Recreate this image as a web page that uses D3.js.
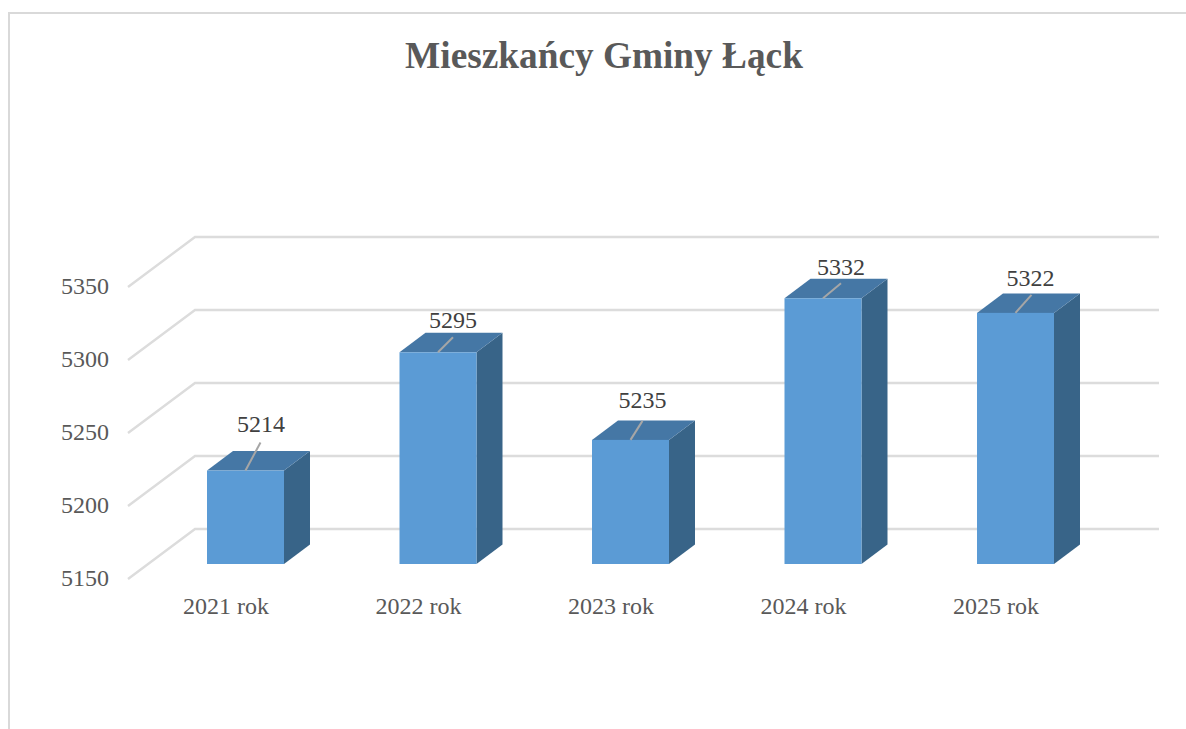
<!DOCTYPE html>
<html>
<head>
<meta charset="utf-8">
<script src="https://cdn.jsdelivr.net/npm/d3@7"></script>
<style>
  html, body { margin: 0; padding: 0; background: #fff; overflow: hidden; }
  text { font-family: "Liberation Serif", serif; }
</style>
</head>
<body>
<div id="chart"></div>
<script>
const years = ["2021 rok", "2022 rok", "2023 rok", "2024 rok", "2025 rok"];
const residents = [5214, 5295, 5235, 5332, 5322];
const yTicks = [5150, 5200, 5250, 5300, 5350];

const width = 1186, height = 729;
// depth of the fake 3d: wall vs. front plane, and the bars themselves
const wallDx = 67, wallDy = 50;
const barDx = 26, barDy = 19.5;

// labels were dragged by hand in the original, so each leader line is different
const leaderDx = [15, 15, 12, 18, 16];
const leaderDy = [28, 15, 19, 15, 18];
const labelDx = [15.5, 15, 12, 18, 15];
const labelGap = [11, 9, 13, 8, 9];

const svg = d3.select("#chart").append("svg")
  .attr("width", width)
  .attr("height", height)
  .style("display", "block");

// chart frame
svg.append("path")
  .attr("d", "M9,729V13H1186")
  .attr("fill", "none")
  .attr("stroke", "#d9d9d9")
  .attr("stroke-width", 2);

svg.append("text")
  .attr("x", 604)
  .attr("y", 68)
  .attr("text-anchor", "middle")
  .attr("font-size", 37.3)
  .attr("font-weight", "bold")
  .attr("fill", "#595959")
  .text("Mieszkańcy Gminy Łąck");

const x = d3.scaleBand()
  .domain(years)
  .range([149.25, 1111.75])
  .paddingInner(0.6)
  .paddingOuter(0.3);

// front plane of the bars
const y = d3.scaleLinear().domain([5150, 5350]).range([564, 272]);
// back wall
const yWall = d3.scaleLinear().domain([5150, 5350]).range([529, 237]);

const wallX = 195;

// gridlines, floor/side edge then along the back wall
svg.append("g").selectAll("path")
  .data(yTicks)
  .enter()
  .append("path")
  .attr("d", d => `M${wallX - wallDx},${yWall(d) + wallDy}L${wallX},${yWall(d)}H1159`)
  .attr("fill", "none")
  .attr("stroke", "#dcdcdc")
  .attr("stroke-width", 2.4);

// y axis labels only, the lines are above
const yAxis = d3.axisLeft(d3.scaleLinear().domain([5150, 5350]).range([578, 286]))
  .tickValues(yTicks)
  .tickSize(0)
  .tickPadding(0)
  .tickFormat(d3.format("d"));

const yG = svg.append("g")
  .attr("transform", "translate(109,0)")
  .call(yAxis);
yG.select(".domain").remove();
yG.selectAll("text")
  .attr("font-size", 24)
  .attr("font-family", "Liberation Serif")
  .attr("fill", "#595959");

// x axis labels sit left of the bars because they belong to the front edge
const xAxis = d3.axisBottom(d3.scaleBand().domain(years).range([149.25 - 19.5, 1111.75 - 19.5]).paddingInner(0.6).paddingOuter(0.3))
  .tickSize(0)
  .tickPadding(0);

const xG = svg.append("g")
  .attr("transform", "translate(0,597)")
  .call(xAxis);
xG.select(".domain").remove();
xG.selectAll("text")
  .attr("font-size", 24)
  .attr("font-family", "Liberation Serif")
  .attr("fill", "#595959");

const data = years.map((year, i) => ({ year, value: residents[i], i }));
const bars = svg.append("g").selectAll("g")
  .data(data)
  .enter()
  .append("g");

// right side
bars.append("path")
  .attr("d", d => {
    const x1 = x(d.year) + x.bandwidth();
    return `M${x1},${y(d.value)}l${barDx},${-barDy}V${y(5150) - barDy}l${-barDx},${barDy}Z`;
  })
  .attr("fill", "#386488");

// top
bars.append("path")
  .attr("d", d => `M${x(d.year)},${y(d.value)}l${barDx},${-barDy}h${x.bandwidth()}l${-barDx},${barDy}Z`)
  .attr("fill", "#4577a5");

// front
bars.append("rect")
  .attr("x", d => x(d.year))
  .attr("y", d => y(d.value))
  .attr("width", x.bandwidth())
  .attr("height", d => y(5150) - y(d.value))
  .attr("fill", "#5b9bd5");

// leader lines from the label down to the bar
bars.append("line")
  .attr("x1", d => x(d.year) + x.bandwidth() / 2)
  .attr("y1", d => y(d.value))
  .attr("x2", d => x(d.year) + x.bandwidth() / 2 + leaderDx[d.i])
  .attr("y2", d => y(d.value) - leaderDy[d.i])
  .attr("stroke", "#a6a6a6")
  .attr("stroke-width", 2);

bars.append("text")
  .attr("x", d => x(d.year) + x.bandwidth() / 2 + labelDx[d.i])
  .attr("y", d => y(d.value) - leaderDy[d.i] - labelGap[d.i])
  .attr("text-anchor", "middle")
  .attr("font-size", 24)
  .attr("fill", "#404040")
  .text(d => d.value);
</script>
</body>
</html>
